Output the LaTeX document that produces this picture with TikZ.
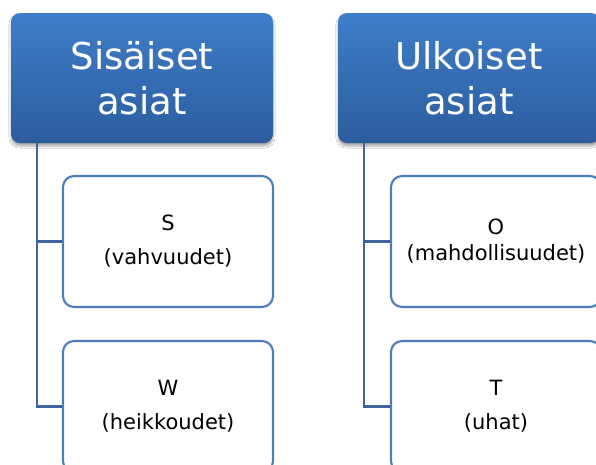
\documentclass[tikz,border=0pt]{standalone}
\usepackage{fontspec}
\setmainfont{DejaVu Sans}
\usetikzlibrary{shadows.blur,calc}
\definecolor{hdrtop}{RGB}{62,126,201}
\definecolor{hdrbot}{RGB}{44,92,158}
\definecolor{conncol}{RGB}{64,100,155}
\definecolor{boxcol}{RGB}{76,124,186}
\tikzset{
  hdrbox/.style={rectangle, rounded corners=9pt, minimum width=262pt, minimum height=130pt,
    top color=hdrtop, bottom color=hdrbot, draw=none, text=white, align=center,
    font=\fontsize{37}{45}\selectfont,
    blur shadow={shadow xshift=0pt, shadow yshift=-3pt, shadow blur steps=8, shadow blur extra rounding=2pt, shadow opacity=35}},
  childbox/.style={rectangle, rounded corners=11pt, minimum width=210pt, minimum height=131pt,
    draw=boxcol, line width=2.1pt, fill=white, align=center, text=black,
    font=\fontsize{21}{25}\selectfont},
  conn/.style={draw=conncol, line width=2.1pt}
}
\begin{document}
\begin{tikzpicture}[x=1pt,y=-1pt]
\useasboundingbox (0,0) rectangle (596,464);
\clip (0,0) rectangle (596,464);
\fill[white] (0,0) rectangle (596,464);
% headers
\node[hdrbox] (hL) at (142,78) {Sisäiset\\asiat};
\node[hdrbox] (hR) at (469,78) {Ulkoiset\\asiat};
% children
\node[childbox] (sL) at (168,241.5) {S\\[9pt](vahvuudet)};
\node[childbox] (wL) at (168,406.5) {W\\[9pt](heikkoudet)};
\node[childbox, font=\fontsize{21}{26}\selectfont] (oR) at (496,241.5) {O\\(mahdollisuudet)};
\node[childbox] (tR) at (496,406.5) {T\\[9pt](uhat)};
% connectors
\coordinate (cL) at ($(hL.south west)+(26,0)$);
\coordinate (cR) at ($(hR.south west)+(26,0)$);
\draw[conn] (cL) |- (sL.west);
\draw[conn] (cL) |- (wL.west);
\draw[conn] (cR) |- (oR.west);
\draw[conn] (cR) |- (tR.west);
\end{tikzpicture}
\end{document}
